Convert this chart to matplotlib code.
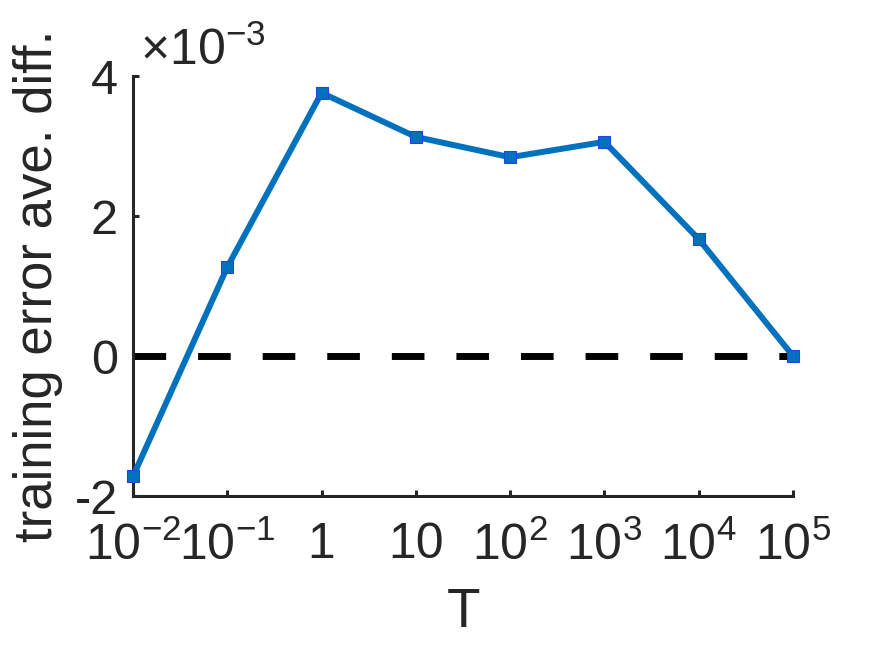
import numpy as np
import matplotlib
matplotlib.use('Agg')
import matplotlib.pyplot as plt

# data
T = [1e-2, 1e-1, 1e0, 1e1, 1e2, 1e3, 1e4, 1e5]
ave_diff = [-1.72e-3, 1.27e-3, 3.76e-3, 3.13e-3, 2.84e-3, 3.06e-3, 1.67e-3, 0.0]
x_labels = ['$10^{-2}$', '$10^{-1}$', '1', '10', '$10^{2}$', '$10^{3}$', '$10^{4}$', '$10^{5}$']
y_ticks = [-2e-3, 0, 2e-3, 4e-3]
y_labels = ['-2', '0', '2', '4']

plt.rcParams['font.family'] = ['Liberation Sans', 'DejaVu Sans']
plt.rcParams['mathtext.fontset'] = 'custom'
plt.rcParams['mathtext.rm'] = 'Liberation Sans'
plt.rcParams['mathtext.it'] = 'Liberation Sans:italic'
plt.rcParams['axes.unicode_minus'] = False

txt = '#262626'
blue = '#0072BD'

fig = plt.figure(figsize=(8.75, 6.56), dpi=100)
ax = fig.add_axes([0.152, 0.2439, 0.7543, 0.6402])

# zero reference line
ax.plot([T[0], T[-1]], [0, 0], color='black', linewidth=5,
        linestyle=(0, (4.7, 4.6)), dash_capstyle='butt', zorder=2)
ax.plot(T, ave_diff, color=blue, linewidth=4.3, marker='s', markersize=8.5,
        markerfacecolor=blue, markeredgecolor='#2a3fe8', markeredgewidth=0.8,
        zorder=3, clip_on=False)

ax.set_xscale('log')
ax.set_xlim(T[0], T[-1])
ax.set_ylim(-2e-3, 4e-3)
ax.set_xticks(T)
ax.set_xticklabels(x_labels)
ax.minorticks_off()
ax.set_yticks(y_ticks)
ax.set_yticklabels(y_labels)

for s in ['top', 'right']:
    ax.spines[s].set_visible(False)
for s in ['left', 'bottom']:
    ax.spines[s].set_color(txt)
    ax.spines[s].set_linewidth(2.2)
    ax.spines[s].set_capstyle('projecting')

ax.tick_params(axis='both', direction='in', length=4, width=2.2, color=txt,
               labelcolor=txt)
ax.tick_params(axis='x', labelsize=36, pad=19)
ax.tick_params(axis='y', labelsize=35, pad=11)

ax.set_xlabel('T', fontsize=39.5, color=txt, labelpad=12)
ax.set_ylabel('training error ave. diff.', fontsize=38, color=txt, labelpad=8)

ax.text(0.011, 1.026, r'$\times10^{-3}$', transform=ax.transAxes, fontsize=36,
        color=txt, ha='left', va='baseline')

fig.savefig('out.png', dpi=100)
